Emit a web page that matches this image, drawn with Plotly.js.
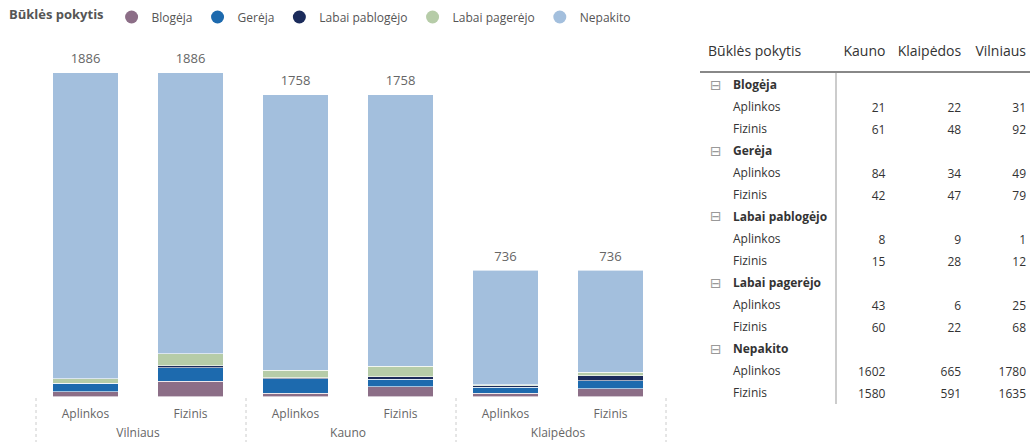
<!DOCTYPE html>
<html>
<head>
<meta charset="utf-8">
<script src="https://cdn.plot.ly/plotly-3.0.1.min.js"></script>
<style>html,body{margin:0;padding:0;background:#fff;}#chart{width:1035px;height:442px;}</style>
</head>
<body>
<div id="chart"></div>
<script>
// ---- data ----
const cities = ["Vilniaus", "Kauno", "Klaipėdos"];
const types = ["Aplinkos", "Fizinis"];
const seriesNames = ["Blogėja", "Gerėja", "Labai pablogėjo", "Labai pagerėjo", "Nepakito"];
const seriesColors = ["#8c6e87", "#1d6aae", "#1b2b5b", "#b6cca8", "#a3bfdd"];
// values per series, order: Vilniaus-Aplinkos, Vilniaus-Fizinis, Kauno-Aplinkos, Kauno-Fizinis, Klaipėdos-Aplinkos, Klaipėdos-Fizinis
const blogeja        = [31, 92, 21, 61, 22, 48];
const gereja         = [49, 79, 84, 42, 34, 47];
const labaiPablogejo = [1, 12, 8, 15, 9, 28];
const labaiPagerejo  = [25, 68, 43, 60, 6, 22];
const nepakito       = [1780, 1635, 1602, 1580, 665, 591];
const seriesValues = [blogeja, gereja, labaiPablogejo, labaiPagerejo, nepakito];

// table columns (order as in the reference matrix)
const tableCities = ["Kauno", "Klaipėdos", "Vilniaus"];
const tableTitle = "Būklės pokytis";

// ---- build ----
const lvl1 = [], lvl2 = [];
cities.forEach(c => types.forEach(t => { lvl1.push(c); lvl2.push(t); }));
const xcat = [lvl1, lvl2];
const totals = lvl1.map((_, i) => seriesValues.reduce((s, arr) => s + arr[i], 0));

const font = "'Open Sans', 'Noto Sans', sans-serif";
const traces = [];
seriesNames.forEach((name, k) => {
  traces.push({
    type: "bar", x: xcat, y: seriesValues[k], name: name,
    marker: {color: seriesColors[k], line: {color: "rgba(255,255,255,0.6)", width: 1}},
    showlegend: false, hoverinfo: "y+name"
  });
});
// legend entries with circle markers
seriesNames.forEach((name, k) => {
  traces.push({
    type: "scatter", mode: "markers", x: [null], y: [null], name: name,
    marker: {color: seriesColors[k], symbol: "circle", size: 13},
    showlegend: true, hoverinfo: "skip"
  });
});
// totals above the bars (invisible marker pushes the text up a little)
traces.push({
  type: "scatter", mode: "markers+text", x: xcat, y: totals, text: totals.map(String),
  marker: {size: 8, opacity: 0},
  textposition: "top center", textfont: {family: font, size: 13, color: "#666"},
  showlegend: false, hoverinfo: "skip", cliponaxis: false
});

// table rows
const rowLabels = [], rowIsGroup = [], colVals = tableCities.map(() => []);
const cityIdx = tableCities.map(c => cities.indexOf(c));
seriesNames.forEach((name, k) => {
  rowLabels.push(name); rowIsGroup.push(true);
  colVals.forEach(cv => cv.push(""));
  types.forEach((t, ti) => {
    rowLabels.push(t); rowIsGroup.push(false);
    cityIdx.forEach((ci, j) => colVals[j].push(String(seriesValues[k][ci * 2 + ti])));
  });
});

const M = {l: 33, r: 0, t: 30, b: 36};
const W = 1035, H = 442;
const pw = W - M.l - M.r, ph = H - M.t - M.b;
const px2x = p => (p - M.l) / pw;
const py2y = p => (H - M.b - p) / ph;

const tblLeftPx = 700, tblTopPx = 37, headerH = 36, rowH = 22, textOff = 11.5;
const colW = [136, 58, 76, 65];
traces.push({
  type: "table",
  domain: {x: [px2x(tblLeftPx), 1], y: [0, py2y(tblTopPx)]},
  columnwidth: colW,
  header: {
    values: [tableTitle].concat(tableCities),
    align: ["left", "right", "right", "right"],
    height: headerH,
    line: {width: 0, color: "rgba(0,0,0,0)"},
    fill: {color: "rgba(0,0,0,0)"},
    font: {family: font, size: 14, color: "#333"}
  },
  cells: {
    values: [rowLabels.map(() => "")].concat(colVals),
    align: ["left", "right", "right", "right"],
    height: rowH,
    line: {width: 0, color: "rgba(0,0,0,0)"},
    fill: {color: "rgba(0,0,0,0)"},
    font: {family: font, size: 12, color: "#333"}
  }
});

// row labels of the matrix (expand icon + bold group names, indented members)
const annotations = [];
const rowsTopPx = tblTopPx + headerH;
rowLabels.forEach((lab, i) => {
  const yc = py2y(rowsTopPx + textOff + i * rowH);
  if (rowIsGroup[i]) {
    annotations.push({xref: "paper", yref: "paper", x: px2x(tblLeftPx + 8), y: yc,
      xanchor: "left", yanchor: "middle", showarrow: false, text: "⊟",
      font: {family: "DejaVu Sans", size: 14, color: "#999"}});
    annotations.push({xref: "paper", yref: "paper", x: px2x(tblLeftPx + 31), y: yc,
      xanchor: "left", yanchor: "middle", showarrow: false, text: "<b>" + lab + "</b>",
      font: {family: font, size: 12, color: "#333"}});
  } else {
    annotations.push({xref: "paper", yref: "paper", x: px2x(tblLeftPx + 31), y: yc,
      xanchor: "left", yanchor: "middle", showarrow: false, text: lab,
      font: {family: font, size: 12, color: "#333"}});
  }
});

const sepPx = tblLeftPx + colW[0];
const xDom = [0, px2x(663)];
const shapes = [
  {type: "line", xref: "paper", yref: "paper", x0: px2x(tblLeftPx), x1: px2x(1030), y0: py2y(72), y1: py2y(72),
   line: {color: "#888", width: 2}},
  {type: "line", xref: "paper", yref: "paper", x0: px2x(sepPx), x1: px2x(sepPx), y0: py2y(404), y1: py2y(73),
   line: {color: "#999", width: 1}}
];
// dotted group dividers below the category axis
for (let g = 0; g <= cities.length; g++) {
  const xp = xDom[0] + (xDom[1] - xDom[0]) * g / cities.length + 3 / pw;
  shapes.push({type: "line", xref: "paper", yref: "paper", x0: xp, x1: xp,
    y0: py2y(398), y1: py2y(442), line: {color: "#ccc", width: 1, dash: "dot"}});
}

// plot area extends 8px below the bars' base so the category labels sit lower
const baseGapUnits = 8 / (397 - 73) * 1886;

const layout = {
  width: W, height: H,
  margin: M,
  paper_bgcolor: "#fff", plot_bgcolor: "#fff",
  font: {family: font, size: 12, color: "#666"},
  barmode: "stack",
  bargap: 0.38,
  xaxis: {
    type: "multicategory", domain: xDom,
    showgrid: false, zeroline: false, showline: false,
    ticks: "",
    tickfont: {family: font, size: 12, color: "#666"},
    showdividers: false
  },
  yaxis: {
    domain: [py2y(405), py2y(53)], range: [-baseGapUnits, 2000],
    visible: false, showgrid: false, zeroline: false
  },
  showlegend: true,
  legend: {
    orientation: "h", traceorder: "normal",
    x: -0.026, xanchor: "left", y: py2y(17), yanchor: "middle",
    title: {text: "<b>Būklės pokytis</b>", font: {family: font, size: 13, color: "#555"}},
    font: {family: font, size: 12, color: "#555"},
    itemwidth: 30, bgcolor: "rgba(0,0,0,0)"
  },
  annotations: annotations,
  shapes: shapes
};

Plotly.newPlot("chart", traces, layout, {displayModeBar: false, staticPlot: true});
</script>
</body>
</html>
